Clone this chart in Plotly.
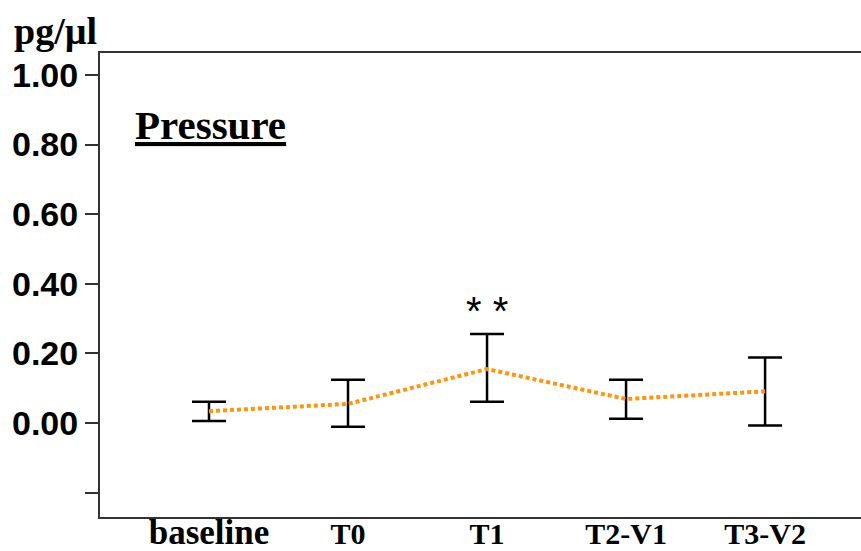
import plotly.graph_objects as go

categories = ["baseline", "T0", "T1", "T2-V1", "T3-V2"]
means = [0.034, 0.055, 0.155, 0.069, 0.091]
upper = [0.061, 0.124, 0.256, 0.124, 0.188]
lower = [0.006, -0.011, 0.061, 0.012, -0.007]
ytick_vals = [-0.2, 0.0, 0.2, 0.4, 0.6, 0.8, 1.0]
ytick_text = ["", "0.00", "0.20", "0.40", "0.60", "0.80", "1.00"]

xpos = list(range(len(categories)))
err_plus = [u - m for u, m in zip(upper, means)]
err_minus = [m - l for m, l in zip(means, lower)]

xtick_text = []
for c in categories:
    size = 35 if c == "baseline" else 30
    xtick_text.append(f"<span style='font-size:{size}px'><b>{c}</b></span>")

fig = go.Figure()
fig.add_trace(go.Scatter(
    x=xpos, y=means, mode="lines",
    line=dict(color="#FF9410", width=4, dash="4px,3px"),
    error_y=dict(type="data", symmetric=False, array=err_plus, arrayminus=err_minus,
                 color="black", thickness=2.5, width=17),
    showlegend=False, hoverinfo="skip",
))

fig.add_annotation(x=2, y=0.322, xref="x", yref="y", text="* *", showarrow=False,
                   font=dict(family="Liberation Sans", size=40, color="black"),
                   xanchor="center", yanchor="middle")
fig.add_annotation(x=(133 - 100) / 761, y=(517 - 125) / 464, xref="paper", yref="paper",
                   text="<b><u>Pressure</u></b>", showarrow=False,
                   font=dict(family="Liberation Serif", size=41, color="black"),
                   xanchor="left", yanchor="middle")
fig.add_annotation(x=-88 / 761, y=(517 - 31) / 464, xref="paper", yref="paper",
                   text="<b>pg/µl</b>", showarrow=False,
                   font=dict(family="Liberation Serif", size=38, color="black"),
                   xanchor="left", yanchor="middle")

fig.update_layout(
    width=861, height=551,
    margin=dict(l=100, r=0, t=53, b=34, autoexpand=False),
    paper_bgcolor="white", plot_bgcolor="white",
    font=dict(family="Liberation Sans"),
    xaxis=dict(range=[-0.784, 4.69], tickvals=xpos, ticktext=xtick_text,
               showgrid=False, zeroline=False, showline=True, linecolor="#333333",
               linewidth=2, mirror=True, ticks="", automargin=False,
               ticklabelstandoff=-11,
               tickfont=dict(family="Liberation Serif", size=30, color="black")),
    yaxis=dict(range=[-0.27, 1.063], tickvals=ytick_vals,
               ticktext=[f"<b>{t}</b>" if t else "" for t in ytick_text],
               showgrid=False, zeroline=False, showline=True, linecolor="#333333",
               linewidth=2, ticks="outside", ticklen=13, tickwidth=2, tickcolor="#333333",
               automargin=False,
               tickfont=dict(family="Liberation Sans", size=34, color="black")),
)
fig.write_html("out.html")
